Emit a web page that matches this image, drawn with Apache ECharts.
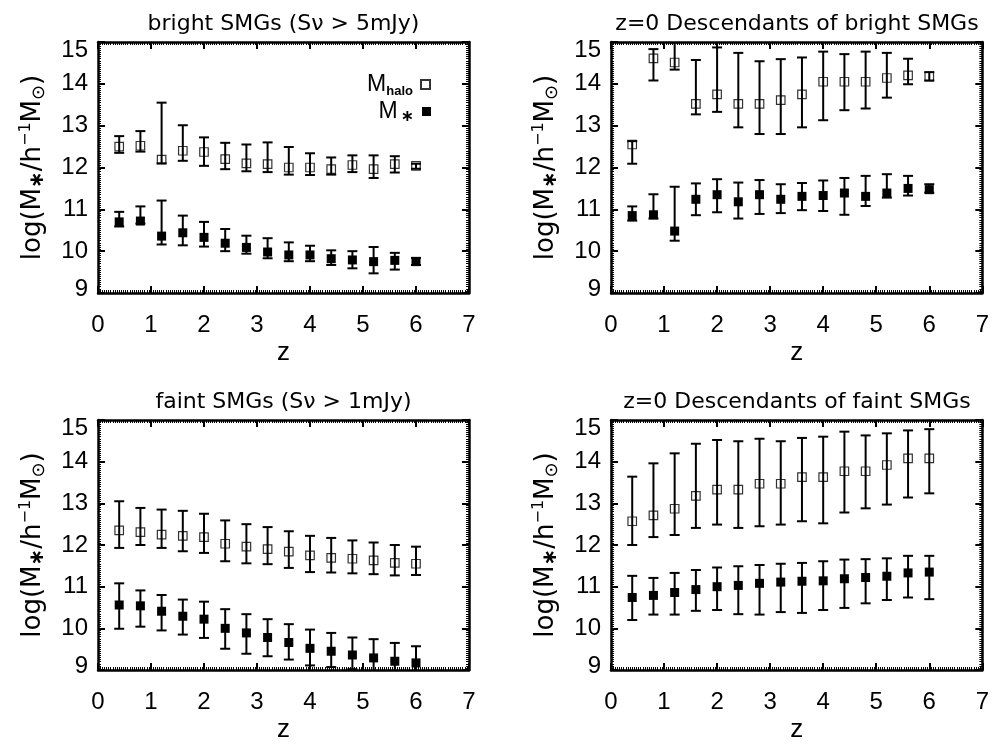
<!DOCTYPE html>
<html>
<head>
<meta charset="utf-8">
<script src="https://cdn.jsdelivr.net/npm/echarts@6/dist/echarts.min.js"></script>
<style>html,body{margin:0;padding:0;background:#fff}#c{width:992px;height:744px}</style>
</head>
<body>
<div id="c"></div>
<script>
// ---------- data ----------
const zVals = [0.4,0.8,1.2,1.6,2.0,2.4,2.8,3.2,3.6,4.0,4.4,4.8,5.2,5.6,6.0];
const xTicks = [0,1,2,3,4,5,6,7];
const yTicks = [9,10,11,12,13,14,15];
const panelTitles = ['bright SMGs (Sν > 5mJy)','z=0 Descendants of bright SMGs','faint SMGs (Sν > 1mJy)','z=0 Descendants of faint SMGs'];

// bright SMGs
const bHalo   = [12.50,12.52,12.19,12.40,12.37,12.20,12.10,12.08,12.00,12.00,11.96,12.06,11.96,12.08,12.04];
const bHaloHi = [12.75,12.87,13.55,13.01,12.72,12.59,12.55,12.60,12.49,12.34,12.24,12.29,12.29,12.27,12.09];
const bHaloLo = [12.35,12.38,12.10,12.16,12.04,11.96,11.91,11.89,11.83,11.82,11.83,11.89,11.75,11.88,11.97];
const bStar   = [10.70,10.72,10.36,10.44,10.33,10.19,10.09,9.98,9.91,9.91,9.82,9.79,9.75,9.78,9.75];
const bStarHi = [10.94,11.07,11.21,10.85,10.70,10.53,10.37,10.31,10.21,10.13,10.02,10.00,10.10,9.96,9.84];
const bStarLo = [10.59,10.66,10.16,10.14,10.11,10.00,9.94,9.83,9.76,9.76,9.67,9.59,9.47,9.56,9.67];
// z=0 descendants of bright SMGs
const bdHalo   = [12.55,14.61,14.51,13.52,13.75,13.52,13.52,13.61,13.75,14.05,14.05,14.05,14.14,14.20,14.17];
const bdHaloHi = [12.63,14.83,14.99,14.57,14.87,14.74,14.54,14.59,14.63,14.77,14.71,14.77,14.74,14.60,14.28];
const bdHaloLo = [12.09,14.08,14.34,13.27,13.33,12.96,12.80,12.80,12.96,13.13,13.37,13.41,13.67,13.99,14.08];
const bdStar   = [10.85,10.87,10.48,11.24,11.35,11.18,11.35,11.24,11.31,11.33,11.39,11.31,11.39,11.50,11.47];
const bdStarHi = [11.07,11.36,11.54,11.62,11.72,11.64,11.70,11.60,11.63,11.69,11.75,11.80,11.84,11.80,11.60];
const bdStarLo = [10.73,10.78,10.25,10.86,10.93,10.78,10.89,10.91,10.98,10.96,10.87,11.08,11.28,11.33,11.40];
// faint SMGs
const fHalo   = [12.35,12.31,12.25,12.22,12.19,12.03,11.96,11.90,11.84,11.75,11.69,11.67,11.63,11.57,11.55];
const fHaloHi = [13.05,12.89,12.85,12.82,12.75,12.59,12.50,12.43,12.33,12.22,12.17,12.11,12.06,12.00,11.96];
const fHaloLo = [11.93,12.00,11.93,11.85,11.81,11.61,11.56,11.54,11.45,11.35,11.34,11.32,11.30,11.27,11.28];
const fStar   = [10.56,10.54,10.41,10.29,10.22,10.00,9.89,9.78,9.66,9.52,9.45,9.36,9.29,9.21,9.17];
const fStarHi = [11.08,10.91,10.80,10.69,10.64,10.46,10.34,10.22,10.10,9.97,9.89,9.78,9.74,9.65,9.57];
const fStarLo = [9.99,10.04,9.95,9.85,9.77,9.51,9.39,9.33,9.25,9.11,9.07,9.02,8.90,8.80,8.80];
// z=0 descendants of faint SMGs
const fdHalo   = [12.57,12.71,12.87,13.18,13.33,13.33,13.47,13.47,13.63,13.63,13.77,13.77,13.92,14.08,14.08];
const fdHaloHi = [13.64,13.96,14.20,14.43,14.52,14.49,14.55,14.49,14.57,14.60,14.72,14.63,14.68,14.75,14.78];
const fdHaloLo = [12.00,12.19,12.24,12.41,12.49,12.41,12.45,12.49,12.57,12.52,12.78,12.88,12.97,13.14,13.24];
const fdStar   = [10.74,10.79,10.86,10.93,11.00,11.03,11.08,11.11,11.13,11.14,11.19,11.22,11.25,11.33,11.35];
const fdStarHi = [11.26,11.21,11.33,11.40,11.46,11.49,11.52,11.55,11.57,11.61,11.65,11.66,11.68,11.74,11.74];
const fdStarLo = [10.20,10.33,10.33,10.42,10.44,10.34,10.33,10.39,10.37,10.44,10.49,10.60,10.68,10.74,10.70];

const panels = [
  {halo:bHalo, haloHi:bHaloHi, haloLo:bHaloLo, star:bStar, starHi:bStarHi, starLo:bStarLo},
  {halo:bdHalo, haloHi:bdHaloHi, haloLo:bdHaloLo, star:bdStar, starHi:bdStarHi, starLo:bdStarLo},
  {halo:fHalo, haloHi:fHaloHi, haloLo:fHaloLo, star:fStar, starHi:fStarHi, starLo:fStarLo},
  {halo:fdHalo, haloHi:fdHaloHi, haloLo:fdHaloLo, star:fdStar, starHi:fdStarHi, starLo:fdStarLo}
];

// ---------- layout ----------
const grids = [
  {left:98, top:42, width:371, height:251},
  {left:611, top:42, width:372, height:251},
  {left:98, top:420, width:371, height:251},
  {left:611, top:420, width:372, height:251}
];
const TICKFONT = 'Liberation Sans';
const black = '#000';

function xAxisDef(gi, pos) {
  const main = pos === 'bottom';
  return {
    type:'value', gridIndex:gi, position:pos, min:xTicks[0], max:xTicks[xTicks.length-1], interval:1,
    axisLine:{show:true, onZero:false, lineStyle:{color:black, width:2.5}},
    axisTick:{show:true, inside:true, length:7, lineStyle:{color:black, width:2}},
    minorTick:{show:true, splitNumber:25, length:3, lineStyle:{color:black, width:1}},
    splitLine:{show:false},
    axisLabel:{show:main, color:black, fontSize:24, fontFamily:TICKFONT, margin:20},
    name: main ? 'z' : '', nameLocation:'middle', nameGap:47,
    nameTextStyle:{color:black, fontSize:26, fontFamily:TICKFONT}
  };
}
function yAxisDef(gi, pos) {
  const main = pos === 'left';
  const lo = yTicks[0], hi = yTicks[yTicks.length-1];
  return {
    type:'value', gridIndex:gi, position:pos, min:lo, max:hi, interval:1,
    axisLine:{show:true, onZero:false, lineStyle:{color:black, width:2.5}},
    axisTick:{show:true, inside:true, length:7, lineStyle:{color:black, width:2}},
    minorTick:{show:true, splitNumber:20, length:3, lineStyle:{color:black, width:1}},
    splitLine:{show:false},
    axisLabel:{show:main, color:black, fontSize:24, fontFamily:TICKFONT, margin:10,
      formatter: v => v === hi ? '{top|' + v + '}' : (v === lo ? '{bot|' + v + '}' : String(v)),
      rich:{
        top:{fontSize:24, fontFamily:TICKFONT, color:black, padding:[16,0,0,0]},
        bot:{fontSize:24, fontFamily:TICKFONT, color:black, padding:[0,0,8,0]}
      }},
    name: main ? '{t|log(M}{sub|∗}{t|/h}{sup|−1}{t|M}{sun|⊙}{t|)}' : '',
    nameLocation:'middle', nameRotate:90, nameGap:50,
    nameTextStyle:{color:black, rich:{
      t:{fontSize:26, fontFamily:'DejaVu Sans', color:black, lineHeight:30},
      sub:{fontSize:20, fontFamily:'DejaVu Sans', fontWeight:'bold', color:black, lineHeight:16, verticalAlign:'bottom'},
      sup:{fontSize:16, fontFamily:'DejaVu Sans', color:black, lineHeight:16, verticalAlign:'top'},
      sun:{fontSize:18, fontFamily:'DejaVu Sans', color:black, lineHeight:18, verticalAlign:'bottom'}
    }}
  };
}

function renderErr(params, api) {
  const x = api.value(0), lo = api.value(1), hi = api.value(2);
  const p1 = api.coord([x, lo]);
  const p2 = api.coord([x, hi]);
  const w = 5;
  const style = {stroke:black, lineWidth:2, fill:null};
  return {type:'group', children:[
    {type:'line', shape:{x1:p1[0], y1:p1[1], x2:p2[0], y2:p2[1]}, style:style},
    {type:'line', shape:{x1:p1[0]-w, y1:p1[1], x2:p1[0]+w, y2:p1[1]}, style:style},
    {type:'line', shape:{x1:p2[0]-w, y1:p2[1], x2:p2[0]+w, y2:p2[1]}, style:style}
  ]};
}

const xAxes = [], yAxes = [], series = [], graphics = [];
grids.forEach((g, i) => {
  xAxes.push(xAxisDef(i, 'bottom'), xAxisDef(i, 'top'));
  yAxes.push(yAxisDef(i, 'left'), yAxisDef(i, 'right'));
  const p = panels[i];
  const errData = [];
  zVals.forEach((z, k) => { errData.push([z, p.haloLo[k], p.haloHi[k]]); });
  zVals.forEach((z, k) => { errData.push([z, p.starLo[k], p.starHi[k]]); });
  series.push({
    type:'custom', xAxisIndex:2*i, yAxisIndex:2*i, renderItem:renderErr, clip:true,
    encode:{x:0, y:[1,2]}, data:errData, silent:true, z:2
  });
  series.push({
    name:'halo', type:'scatter', xAxisIndex:2*i, yAxisIndex:2*i, symbol:'rect', symbolSize:8.5,
    itemStyle:{color:'rgba(255,255,255,0)', borderColor:black, borderWidth:1.2},
    data:zVals.map((z,k)=>[z, p.halo[k]]), clip:true, z:3
  });
  series.push({
    name:'star', type:'scatter', xAxisIndex:2*i, yAxisIndex:2*i, symbol:'rect', symbolSize:9,
    itemStyle:{color:black, opacity:1}, data:zVals.map((z,k)=>[z, p.star[k]]), clip:true, z:3
  });
  graphics.push({
    type:'text', x:g.left + g.width/2, y:g.top - 7,
    style:{text:panelTitles[i], fontSize:22, fontFamily:'DejaVu Sans', fill:black,
      textAlign:'center', textVerticalAlign:'bottom'}
  });
});

const legendRich = {
  m:{fontSize:23, fontFamily:TICKFONT, color:black, lineHeight:26},
  sub:{fontSize:13, fontFamily:TICKFONT, fontWeight:'bold', color:black, lineHeight:13, verticalAlign:'bottom'},
  sub2:{fontSize:16, fontFamily:'DejaVu Sans', fontWeight:'bold', color:black, lineHeight:10, verticalAlign:'bottom', padding:[0,0,0,3]}
};
function legendDef(name, top) {
  return {
    data:[name], orient:'vertical', right:561, top:top, align:'right', padding:0,
    itemWidth:9, itemHeight:9, itemGap:4, selectedMode:false,
    formatter: n => n === 'halo' ? '{m|M}{sub|halo}' : '{m|M}{sub2|∗}',
    textStyle:{rich:legendRich, padding:[0,3,0,0]}
  };
}

const chart = echarts.init(document.getElementById('c'), null, {renderer:'canvas'});
chart.setOption({
  backgroundColor:'#fff',
  animation:false,
  grid:grids,
  xAxis:xAxes,
  yAxis:yAxes,
  legend:[legendDef('halo', 73), legendDef('star', 100)],
  series:series,
  graphic:graphics
});
</script>
</body>
</html>
